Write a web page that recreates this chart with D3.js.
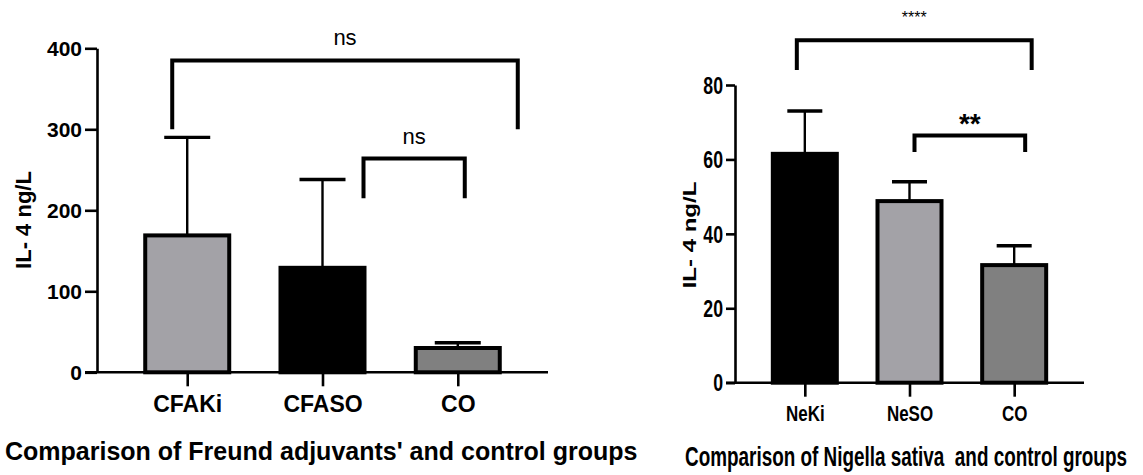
<!DOCTYPE html>
<html>
<head>
<meta charset="utf-8">
<script src="https://cdn.jsdelivr.net/npm/d3@7"></script>
<style>
  html, body { margin: 0; padding: 0; background: #fff; }
  svg { display: block; }
  text { font-family: Arial, "Liberation Sans", sans-serif; fill: #000; }
</style>
</head>
<body>
<div id="wrapper"></div>
<script>
// left panel data (Freund adjuvants)
const leftCats = ["CFAKi", "CFASO", "CO"];
const leftMeans = [169, 129, 30];
const leftErr = [121, 109, 6.5];
const leftTicks = [0, 100, 200, 300, 400];
const leftBrackets = [
    { from: "CFAKi", to: "CO", top: 385, leg: 300, label: "ns" },
    { from: "CFASO", to: "CO", top: 264, leg: 215, label: "ns" }
];

// right panel data (Nigella sativa)
const rightCats = ["NeKi", "NeSO", "CO"];
const rightMeans = [61.5, 48.8, 31.6];
const rightErr = [11.5, 5.2, 5.2];
const rightTicks = [0, 20, 40, 60, 80];
const rightBrackets = [
    { from: "NeKi", to: "CO", top: 92, leg: 84, label: "****" },
    { from: "NeSO", to: "CO", top: 66.4, leg: 62, label: "**" }
];

const yLabel = "IL- 4 ng/L";
const leftTitle = "Comparison of Freund adjuvants' and control groups";
const rightTitle = "Comparison of Nigella sativa  and control groups";

const width = 1143;
const height = 475;

const svg = d3.select("#wrapper")
    .append("svg")
    .attr("width", width)
    .attr("height", height);

// text helper, sx squeezes glyphs horizontally
function addText(g, x, y, txt, o) {
    const t = g.append("text")
        .attr("transform", `translate(${x},${y}) scale(${o.sx || 1},1)` + (o.rot ? ` rotate(${o.rot})` : ""))
        .attr("text-anchor", o.anchor || "middle")
        .style("font-size", o.size + "px")
        .style("font-weight", o.bold ? "bold" : "normal")
        .style("white-space", "pre")
        .text(txt);
    return t;
}

function drawPanel(p) {
    const g = svg.append("g");

    const y = d3.scaleLinear().domain(p.domain).range([p.bottom, p.top]);
    const x = d3.scalePoint().domain(p.cats).range([p.left, p.right]).padding(0.667);

    // y axis
    const yAxis = g.append("g")
        .attr("transform", `translate(${p.left},0)`)
        .call(d3.axisLeft(y).tickValues(p.ticks).tickSize(p.ySize).tickSizeOuter(0).tickFormat(d3.format("d")));
    yAxis.selectAll("path, line").attr("stroke", "#000").attr("stroke-width", 2.6);
    yAxis.selectAll("text").remove();
    yAxis.selectAll(".tick").each(function (d) {
        addText(d3.select(this), -p.ySize - 3, 0.36 * p.tickFont, d, { size: p.tickFont, bold: true, anchor: "end", sx: p.sx });
    });

    // x axis
    const xAxis = g.append("g")
        .attr("transform", `translate(0,${p.bottom})`)
        .call(d3.axisBottom(x).tickSize(p.xSize).tickSizeOuter(0));
    xAxis.select(".domain").attr("d", `M${p.left - p.ySize},0H${p.right}`);
    xAxis.selectAll("path, line").attr("stroke", "#000").attr("stroke-width", 2.6);
    xAxis.selectAll("text").remove();
    xAxis.selectAll(".tick").each(function (d) {
        addText(d3.select(this), 0, p.xLabelDy, d, { size: p.xFont, bold: true, sx: p.sx });
    });

    // bars
    const data = p.cats.map((c, i) => ({ cat: c, mean: p.means[i], err: p.errs[i], fill: p.fills[i] }));

    // error bars (only upward), drawn under bars
    g.selectAll(".err").data(data).join("line")
        .attr("x1", d => x(d.cat)).attr("x2", d => x(d.cat))
        .attr("y1", d => y(d.mean)).attr("y2", d => y(d.mean + d.err))
        .attr("stroke", "#000").attr("stroke-width", 2.4);
    g.selectAll(".cap").data(data).join("line")
        .attr("x1", d => x(d.cat) - p.capW / 2).attr("x2", d => x(d.cat) + p.capW / 2)
        .attr("y1", d => y(d.mean + d.err)).attr("y2", d => y(d.mean + d.err))
        .attr("stroke", "#000").attr("stroke-width", 3.4);

    g.selectAll(".bar").data(data).join("rect")
        .attr("x", d => x(d.cat) - p.barW / 2)
        .attr("width", p.barW)
        .attr("y", d => y(d.mean))
        .attr("height", d => y(0) - y(d.mean))
        .attr("fill", d => d.fill)
        .attr("stroke", "#000")
        .attr("stroke-width", 4);

    // significance brackets
    p.brackets.forEach((b, i) => {
        const x1 = x(b.from) + p.bracketDx[i][0];
        const x2 = x(b.to) + p.bracketDx[i][1];
        g.append("path")
            .attr("d", `M${x1},${y(b.leg)}V${y(b.top)}H${x2}V${y(b.leg)}`)
            .attr("fill", "none")
            .attr("stroke", "#000")
            .attr("stroke-width", 4);
        const s = p.sigStyle[i];
        addText(g, (x1 + x2) / 2, y(b.top) - s.gap, b.label, { size: s.size, bold: s.bold, sx: s.sx });
    });

    // y axis title
    addText(g, p.yLabelX, p.yLabelY, yLabel, { size: p.yLabelFont, bold: true, rot: -90, sx: p.sx });
    // panel title
    addText(g, p.titleX, p.titleY, p.title, { size: p.titleFont, bold: true, anchor: "start", sx: p.titleSx });
}

drawPanel({
    cats: leftCats, means: leftMeans, errs: leftErr, ticks: leftTicks, brackets: leftBrackets,
    fills: ["#a3a2a7", "#000000", "#808080"],
    domain: [0, 400], top: 48.3, bottom: 372.3, left: 97, right: 548,
    ySize: 12, xSize: 14, tickFont: 21, xFont: 23, xLabelDy: 39.5,
    barW: 84, capW: 46, sx: 1,
    bracketDx: [[-15, 60], [41, 7]],
    sigStyle: [{ size: 22, gap: 15.5, bold: false, sx: 1 }, { size: 22, gap: 14.5, bold: false, sx: 1 }],
    yLabelX: 31, yLabelY: 220, yLabelFont: 22,
    title: leftTitle, titleX: 5, titleY: 460, titleFont: 25, titleSx: 1
});

drawPanel({
    cats: rightCats, means: rightMeans, errs: rightErr, ticks: rightTicks, brackets: rightBrackets,
    fills: ["#000000", "#a3a2a7", "#808080"],
    domain: [0, 80], top: 85, bottom: 382.7, left: 735, right: 1084,
    ySize: 9, xSize: 14, tickFont: 23, xFont: 22, xLabelDy: 38,
    barW: 64, capW: 35, sx: 0.77,
    bracketDx: [[-8, 17.5], [5, 11]],
    sigStyle: [{ size: 16, gap: 17.5, bold: false, sx: 1 }, { size: 28, gap: 2.4, bold: true, sx: 1 }],
    yLabelX: 696, yLabelY: 235, yLabelFont: 24,
    title: rightTitle, titleX: 685, titleY: 466, titleFont: 27, titleSx: 0.7
});
</script>
</body>
</html>
